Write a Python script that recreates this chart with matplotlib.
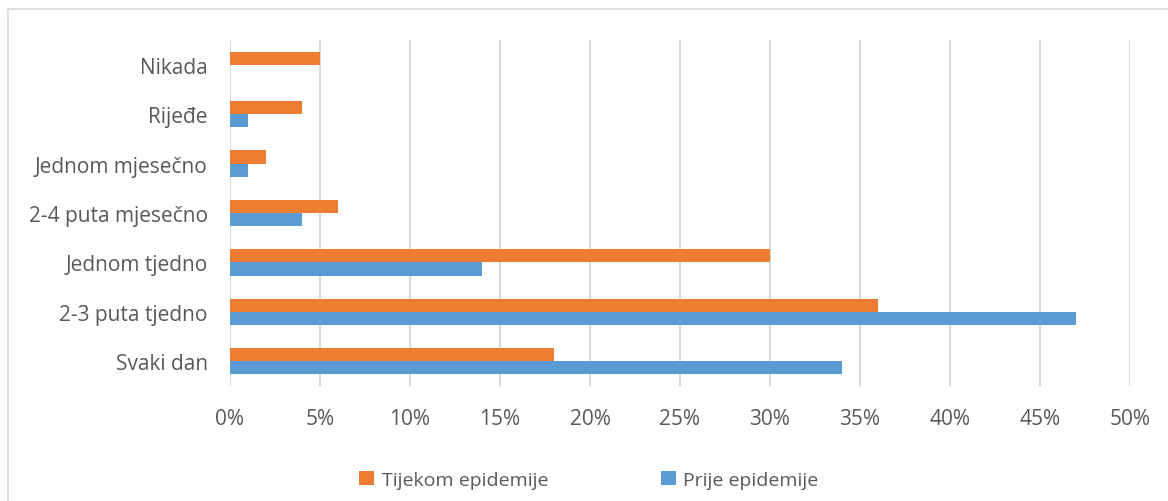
import matplotlib.pyplot as plt
import numpy as np
from matplotlib.patches import Rectangle

categories = ['Svaki dan', '2-3 puta tjedno', 'Jednom tjedno', '2-4 puta mjesečno',
              'Jednom mjesečno', 'Rijeđe', 'Nikada']
tijekom = [18, 36, 30, 6, 2, 4, 5]
prije = [34, 47, 14, 4, 1, 1, 0]
xticks = [0, 5, 10, 15, 20, 25, 30, 35, 40, 45, 50]

plt.rcParams['font.family'] = ['Open Sans', 'DejaVu Sans']
text_col = '#595959'

fig = plt.figure(figsize=(11.68, 5.02), dpi=100)
ax = fig.add_axes([230 / 1168, 1 - 387 / 502, 900 / 1168, 346 / 502])

y = np.arange(len(categories))
h = 0.265
ax.barh(y + h / 2, tijekom, height=h, color='#ED7D31', label='Tijekom epidemije', zorder=3)
ax.barh(y - h / 2, prije, height=h, color='#5B9BD5', label='Prije epidemije', zorder=3)

ax.set_xlim(0, 50)
ax.set_ylim(-0.5, len(categories) - 0.5)
ax.set_xticks(xticks)
ax.set_xticklabels([f'{v}%' for v in xticks])
ax.set_yticks(y)
ax.set_yticklabels(categories)
ax.tick_params(axis='both', length=0, labelsize=15, colors=text_col)
ax.tick_params(axis='x', pad=16)
ax.tick_params(axis='y', pad=16)
ax.grid(axis='x', color='#d9d9d9', linewidth=1.5, zorder=0)
for s in ax.spines.values():
    s.set_visible(False)

# outer chart frame
fig.patches.append(Rectangle((8 / 1168, -0.1), 1.2, 1 - 10 / 502 + 0.1,
                             transform=fig.transFigure, fill=False,
                             edgecolor='#d9d9d9', linewidth=1.2))

leg = fig.legend(loc='center', bbox_to_anchor=(589 / 1168, 1 - 481 / 502), ncol=2,
                 frameon=False, fontsize=14, handlelength=0.75, handleheight=0.75,
                 handletextpad=0.4, columnspacing=5.8)
for t in leg.get_texts():
    t.set_color(text_col)

fig.savefig('out.png', dpi=100)
